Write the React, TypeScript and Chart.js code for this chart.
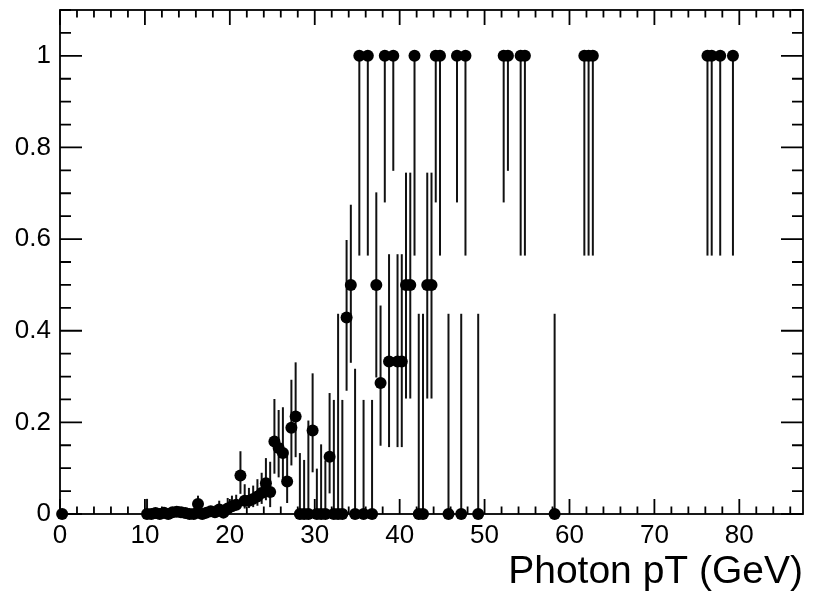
import React, { useEffect, useRef } from 'react';
import { Chart, registerables } from 'chart.js';

Chart.register(...registerables);

// Photon pT bin centres (GeV)
const ptBins = [
  0.25,
  10.25, 10.75, 11.25, 11.75, 12.25, 12.75, 13.25, 13.75, 14.25, 14.75,
  15.25, 15.75, 16.25, 16.75, 17.25, 17.75, 18.25, 18.75, 19.25, 19.75,
  20.25, 20.75, 21.25, 21.75, 22.25, 22.75, 23.25, 23.75, 24.25, 24.75,
  25.25, 25.75, 26.25, 26.75, 27.25, 27.75, 28.25, 28.75, 29.25, 29.75,
  30.25, 30.75, 31.25, 31.75, 32.25, 32.75, 33.25, 33.75, 34.25, 34.75,
  35.25, 35.75, 36.25, 36.75, 37.25, 37.75, 38.25, 38.75, 39.25, 39.75,
  40.25, 40.75, 41.25, 41.75, 42.25, 42.75, 43.25, 43.75, 44.25, 44.75,
  45.75, 46.75, 47.25, 47.75, 49.25, 52.25, 52.75, 54.25, 54.75, 58.25,
  61.75, 62.25, 62.75, 76.25, 76.75, 77.75, 79.25,
];

// Efficiency value per bin
const efficiency = [
  0,
  0, 0, 0.002, 0, 0.003, 0, 0.004, 0.005, 0.004, 0.002,
  0, 0, 0.022, 0, 0.003, 0.006, 0.004, 0.01, 0.003, 0.012,
  0.017, 0.02, 0.084, 0.029, 0.029, 0.033, 0.038, 0.046, 0.067, 0.048,
  0.158, 0.144, 0.133, 0.071, 0.188, 0.213, 0, 0, 0, 0.182,
  0, 0, 0, 0.125, 0, 0, 0, 0.429, 0.5, 0,
  1, 0, 1, 0, 0.5, 0.286, 1, 0.333, 1, 0.333,
  0.333, 0.5, 0.5, 1, 0, 0, 0.5, 0.5, 1, 1,
  0, 1, 0, 1, 0, 1, 1, 1, 1, 0,
  1, 1, 1, 1, 1, 1, 1,
];

// Lower edge of the uncertainty interval
const effLow = [
  0,
  0, 0, 0, 0, 0, 0, 0.001, 0.002, 0.001, 0,
  0, 0, 0.008, 0, 0, 0.001, 0.001, 0.002, 0, 0.003,
  0.006, 0.008, 0.044, 0.012, 0.013, 0.015, 0.018, 0.022, 0.03, 0.015,
  0.088, 0.08, 0.073, 0.024, 0.106, 0.124, 0, 0, 0, 0.091,
  0, 0, 0, 0.045, 0, 0, 0, 0.269, 0.33, 0,
  0.564, 0, 0.564, 0, 0.298, 0.149, 0.68, 0.146, 0.749, 0.146,
  0.146, 0.252, 0.252, 0.564, 0, 0, 0.252, 0.252, 0.68, 0.564,
  0, 0.68, 0, 0.564, 0, 0.68, 0.749, 0.564, 0.564, 0,
  0.564, 0.564, 0.564, 0.564, 0.564, 0.564, 0.564,
];

// Upper edge of the uncertainty interval
const effHigh = [
  0,
  0.033, 0.008, 0.01, 0.006, 0.009, 0.006, 0.009, 0.01, 0.009, 0.006,
  0.005, 0.005, 0.04, 0.006, 0.009, 0.013, 0.01, 0.029, 0.012, 0.035,
  0.04, 0.042, 0.137, 0.065, 0.057, 0.062, 0.076, 0.09, 0.122, 0.114,
  0.251, 0.227, 0.233, 0.14, 0.293, 0.331, 0.133, 0.118, 0.204, 0.307,
  0.099, 0.152, 0.117, 0.264, 0.249, 0.437, 0.249, 0.598, 0.675, 0.317,
  1, 0.249, 1, 0.249, 0.702, 0.455, 1, 0.567, 1, 0.567,
  0.567, 0.745, 0.745, 1, 0.437, 0.437, 0.745, 0.745, 1, 1,
  0.437, 1, 0.437, 1, 0.437, 1, 1, 1, 1, 0.437,
  1, 1, 1, 1, 1, 1, 1,
];

const xMajorTicks = [0, 10, 20, 30, 40, 50, 60, 70, 80];
const yMajorTicks = [0, 0.2, 0.4, 0.6, 0.8, 1];
const yTickLabels = ['0', '0.2', '0.4', '0.6', '0.8', '1'];
const xAxisTitle = 'Photon pT (GeV)';

const X_MIN = 0;
const X_MAX = 87.5;
const Y_MIN = 0;
const Y_MAX = 1.1;
const X_MINOR_STEP = 2;
const Y_MINOR_STEP = 0.05;

const FONT = "'Liberation Sans', Arial, Helvetica, sans-serif";

const errorBarPlugin = {
  id: 'errorBars',
  beforeDatasetsDraw(chart: any) {
    const { ctx, scales } = chart;
    const xs = scales.x;
    const ys = scales.y;
    ctx.save();
    ctx.strokeStyle = '#111';
    ctx.lineWidth = 2;
    ctx.lineCap = 'butt';
    for (let i = 0; i < ptBins.length; i++) {
      const lo = effLow[i];
      const hi = effHigh[i];
      if (hi - lo <= 0) continue;
      const px = xs.getPixelForValue(ptBins[i]);
      ctx.beginPath();
      ctx.moveTo(px, ys.getPixelForValue(lo));
      ctx.lineTo(px, ys.getPixelForValue(hi));
      ctx.stroke();
    }
    ctx.restore();
  },
};

const framePlugin = {
  id: 'rootFrame',
  afterDraw(chart: any) {
    const { ctx, chartArea, scales } = chart;
    const xs = scales.x;
    const ys = scales.y;
    const { left, right, top, bottom } = chartArea;
    ctx.save();
    ctx.strokeStyle = '#000';
    ctx.lineWidth = 1.8;
    ctx.strokeRect(left, top, right - left, bottom - top);

    ctx.beginPath();
    for (let v = X_MIN; v <= X_MAX + 1e-9; v += X_MINOR_STEP) {
      const major = Math.abs(v / 10 - Math.round(v / 10)) < 1e-6;
      const len = major ? 15 : 7.5;
      const px = xs.getPixelForValue(v);
      ctx.moveTo(px, bottom);
      ctx.lineTo(px, bottom - len);
      ctx.moveTo(px, top);
      ctx.lineTo(px, top + len);
    }
    for (let k = 0; k * Y_MINOR_STEP <= Y_MAX + 1e-9; k++) {
      const v = k * Y_MINOR_STEP;
      const major = k % 4 === 0;
      const len = major ? 22 : 11;
      const py = ys.getPixelForValue(v);
      ctx.moveTo(left, py);
      ctx.lineTo(left + len, py);
      ctx.moveTo(right, py);
      ctx.lineTo(right - len, py);
    }
    ctx.stroke();
    ctx.restore();
  },
};

export default function App() {
  const canvasRef = useRef<HTMLCanvasElement | null>(null);

  useEffect(() => {
    document.body.style.margin = '0';
    document.body.style.background = '#fff';
    const canvas = canvasRef.current;
    if (!canvas) return;

    const points = ptBins.map((x, i) => ({ x, y: efficiency[i] }));

    const chart = new Chart(canvas, {
      type: 'scatter',
      data: {
        datasets: [
          {
            data: points,
            pointRadius: 6,
            pointHoverRadius: 6,
            pointBackgroundColor: '#000',
            pointBorderColor: '#000',
            pointBorderWidth: 0,
            showLine: false,
            clip: false as any,
          },
        ],
      },
      options: {
        animation: false,
        responsive: false,
        devicePixelRatio: 1,
        events: [],
        layout: { padding: { top: 10, right: 15, left: 0, bottom: 0 } },
        plugins: {
          legend: { display: false },
          tooltip: { enabled: false },
          title: { display: false },
        },
        scales: {
          x: {
            type: 'linear',
            position: 'bottom',
            min: X_MIN,
            max: X_MAX,
            grid: { display: false, drawTicks: false },
            border: { display: false },
            afterBuildTicks: (s: any) => {
              s.ticks = xMajorTicks.map((v) => ({ value: v }));
            },
            afterFit: (s: any) => {
              s.height = 81;
              s.paddingLeft = 0;
              s.paddingRight = 0;
            },
            ticks: {
              autoSkip: false,
              maxRotation: 0,
              padding: 6,
              color: '#000',
              font: { family: FONT, size: 26 },
              callback: (v: any) => String(v),
            },
            title: {
              display: true,
              text: xAxisTitle,
              align: 'end',
              color: '#000',
              padding: { top: 0, bottom: -1 },
              font: { family: FONT, size: 39 },
            },
          },
          y: {
            type: 'linear',
            min: Y_MIN,
            max: Y_MAX,
            grid: { display: false, drawTicks: false },
            border: { display: false },
            afterBuildTicks: (s: any) => {
              s.ticks = yMajorTicks.map((v) => ({ value: v }));
            },
            afterFit: (s: any) => {
              s.width = 60;
              s.paddingTop = 0;
              s.paddingBottom = 0;
            },
            ticks: {
              autoSkip: false,
              padding: 9,
              color: '#000',
              font: { family: FONT, size: 26 },
              callback: (_v: any, i: number) => yTickLabels[i],
            },
          },
        },
      },
      plugins: [errorBarPlugin, framePlugin],
    });

    return () => chart.destroy();
  }, []);

  return (
    <div style={{ width: 818, height: 595, background: '#fff' }}>
      <canvas ref={canvasRef} width={818} height={595} style={{ display: 'block' }} />
    </div>
  );
}
